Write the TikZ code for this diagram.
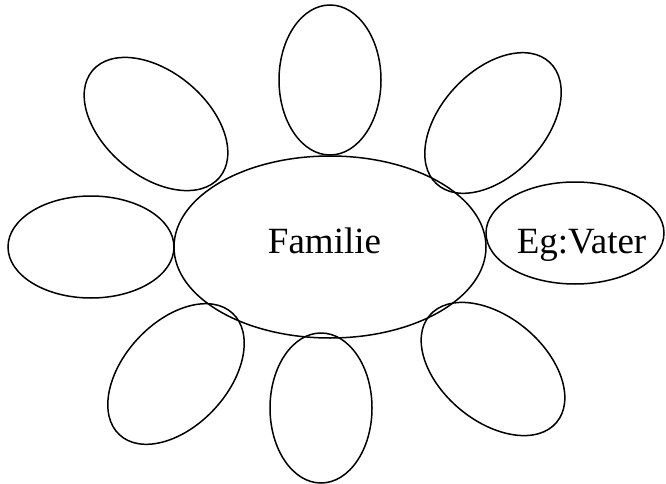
\documentclass[tikz,border=0pt]{standalone}
\usepackage{fontspec}
\setmainfont{Liberation Serif}
\usetikzlibrary{shapes.geometric}
\begin{document}
\begin{tikzpicture}[x=1pt,y=-1pt,
  petal/.style={ellipse, draw=black, line width=1.5pt, inner sep=0pt, outer sep=0pt},
  label/.style={inner sep=0pt, anchor=base, font=\fontsize{37}{44}\selectfont}]
\useasboundingbox (0,0) rectangle (666,484);
% centre
\node[petal, minimum width=312pt, minimum height=182pt] (centre) at (330,247) {};
% petals
\node[petal, minimum width=102pt, minimum height=150pt] (top) at (330,80) {};
\node[petal, minimum width=102pt, minimum height=150pt] (bottom) at (321,408) {};
\node[petal, minimum width=166pt, minimum height=102pt] (left) at (91,247) {};
\node[petal, minimum width=178pt, minimum height=102pt] (right) at (575,233) {};
\node[petal, minimum width=166pt, minimum height=104pt, rotate=-40] (topleft) at (156,124) {};
\node[petal, minimum width=166pt, minimum height=104pt, rotate=47] (topright) at (493,123) {};
\node[petal, minimum width=166pt, minimum height=104pt, rotate=47] (bottomleft) at (176,374) {};
\node[petal, minimum width=166pt, minimum height=104pt, rotate=-40] (bottomright) at (493,369) {};
% texts
\node[label] (familie) at (324.5,253.5) {Familie};
\node[label] (vater) at (581.5,253.5) {Eg:Vater};
\end{tikzpicture}
\end{document}
